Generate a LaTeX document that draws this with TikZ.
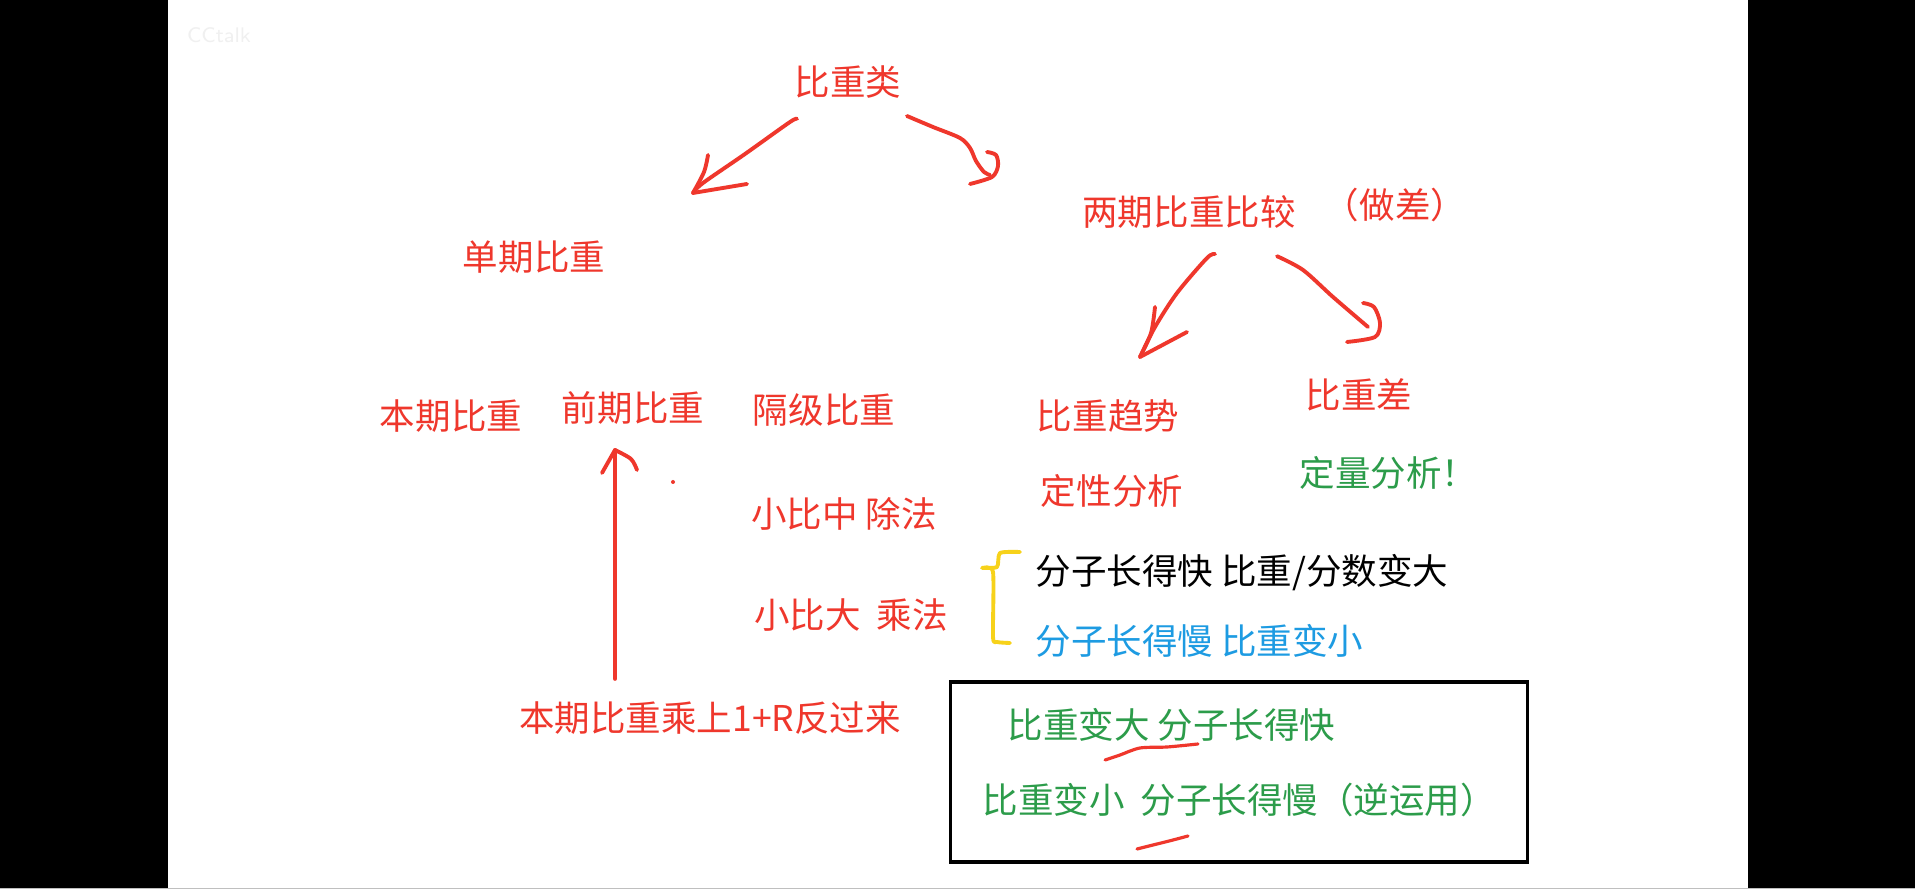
\documentclass[tikz,border=0pt]{standalone}
\usepackage{fontspec}
\setmainfont{Noto Sans CJK SC}
\definecolor{inkred}{HTML}{EF372C}
\definecolor{inkgreen}{HTML}{2C9C4A}
\definecolor{inkblue}{HTML}{1D9BE2}
\definecolor{inkyellow}{HTML}{F7D21A}

\begin{document}
\begin{tikzpicture}[x=0.01cm, y=-0.01cm,
		txt/.style={font=\fontsize{10.1pt}{12pt}\selectfont, inner sep=0pt, text=inkred},
		pen/.style={inkred, line width=1.1pt, line cap=round, line join=round},
		marker/.style={inkred, line width=0.9pt, line cap=round},
	]
	\useasboundingbox (0,0) rectangle (1915,889);
	\fill[black] (0,0) rectangle (1915,889);
	\fill[white] (168,0) rectangle (1748,889);
	\draw[black!25, line width=0.01cm] (0,888.5) -- (1915,888.5);
	\node[font=\sffamily\fontsize{6pt}{7pt}\selectfont, text=black!6, inner sep=0pt] (logo) at (219,35) {CCtalk};

	% texts
	\node[txt] (lei) at (848,82) {比重类};
	\node[txt] (dan) at (534,257) {单期比重};
	\node[txt] (liang) at (1189,212) {两期比重比较};
	\node[txt] (zuocha) at (1395,205) {（做差）};
	\node[txt] (benqi) at (451,416) {本期比重};
	\node[txt] (qianqi) at (633,408) {前期比重};
	\node[txt] (geji) at (824,410) {隔级比重};
	\node[txt] (chufa) at (844,514) {小比中 除法};
	\node[txt] (chengfa) at (851,615) {小比大~~乘法};
	\node[txt] (fanguo) at (710,718) {本期比重乘上1+R反过来};
	\node[txt] (qushi) at (1108,416) {比重趋势};
	\node[txt] (dingxing) at (1112,491) {定性分析};
	\node[txt] (cha) at (1359,395) {比重差};
	\node[txt, text=inkgreen, anchor=west] (dingliang) at (1299,473) {定量分析！};
	\node[txt, text=black, anchor=west] (kuai) at (1035,573) {分子长得快 比重/分数变大};
	\node[txt, text=inkblue, anchor=west] (man) at (1035,641) {分子长得慢 比重变小};

	% boxed summary
	\node[draw, line width=0.9pt, minimum width=5.76cm, minimum height=1.80cm, inner sep=0pt] (kuang) at (1239,772) {};
	\node[txt, text=inkgreen, anchor=west] (bianda) at (1007,725) {比重变大 分子长得快};
	\node[txt, text=inkgreen, anchor=west] (bianxiao) at (982,800) {比重变小~~分子长得慢（逆运用）};

	% stroke ends
	\coordinate (s1) at ([shift={(-51,20)}]lei.south);
	\coordinate (s2) at ([shift={(59,17)}]lei.south);
	\coordinate (s3) at ([shift={(26,25)}]liang.south);
	\coordinate (s4) at ([shift={(88,27)}]liang.south);
	\coordinate (s5) at ([shift={(-95,-22)}]fanguo.north);
	\coordinate (tipA) at (693,193);
	\coordinate (tipC) at (1140,357);
	\coordinate (tipE) at (615,450);

	% 比重类 -> 单期 / 两期
	\draw[pen] plot[smooth] coordinates {(s1) (790,122) (745,154) (703,183) (tipA)};
	\draw[pen] plot[smooth] coordinates {(708,155) (704,172) (tipA)};
	\draw[pen] (tipA) -- (747,184);
	\draw[pen] plot[smooth] coordinates {(s2) (933,127) (960,138) (970,148) (976,161) (984,172) (990,175)};
	\draw[pen] plot[smooth] coordinates {(987,152) (996,155) (998,166) (992,177) (970,184)};

	% 两期 -> 趋势 / 差
	\draw[pen] plot[smooth] coordinates {(s3) (1207,258) (1177,293) (1155,327) (tipC)};
	\draw[pen] plot[smooth] coordinates {(1155,307) (1151,333) (tipC)};
	\draw[pen] (tipC) -- (1187,332);
	\draw[pen] plot[smooth] coordinates {(s4) (1303,270) (1333,297) (1368,327)};
	\draw[pen] plot[smooth] coordinates {(1363,303) (1374,307) (1380,323) (1375,337) (1347,342)};

	% 反过来 -> 前期
	\draw[pen] (s5) -- (tipE);
	\draw[pen] (602,473) -- (tipE);
	\draw[pen] plot[smooth] coordinates {(tipE) (631,459) (637,470)};
	\fill[inkred] (673,482) circle (2);

	% brace
	\draw[inkyellow, line width=1.1pt, line cap=round, line join=round] plot[smooth, tension=0.4] coordinates {(1020,552) (1000,553) (997,567) (982,568) (993,572) (993,637) (997,642) (1010,643)};

	% underlines
	\draw[marker] plot[smooth] coordinates {(1105,760) (1120,755) (1140,748) (1167,747) (1198,744)};
	\draw[marker] plot[smooth] coordinates {(1137,849) (1153,845) (1173,840) (1188,836)};
\end{tikzpicture}
\end{document}
